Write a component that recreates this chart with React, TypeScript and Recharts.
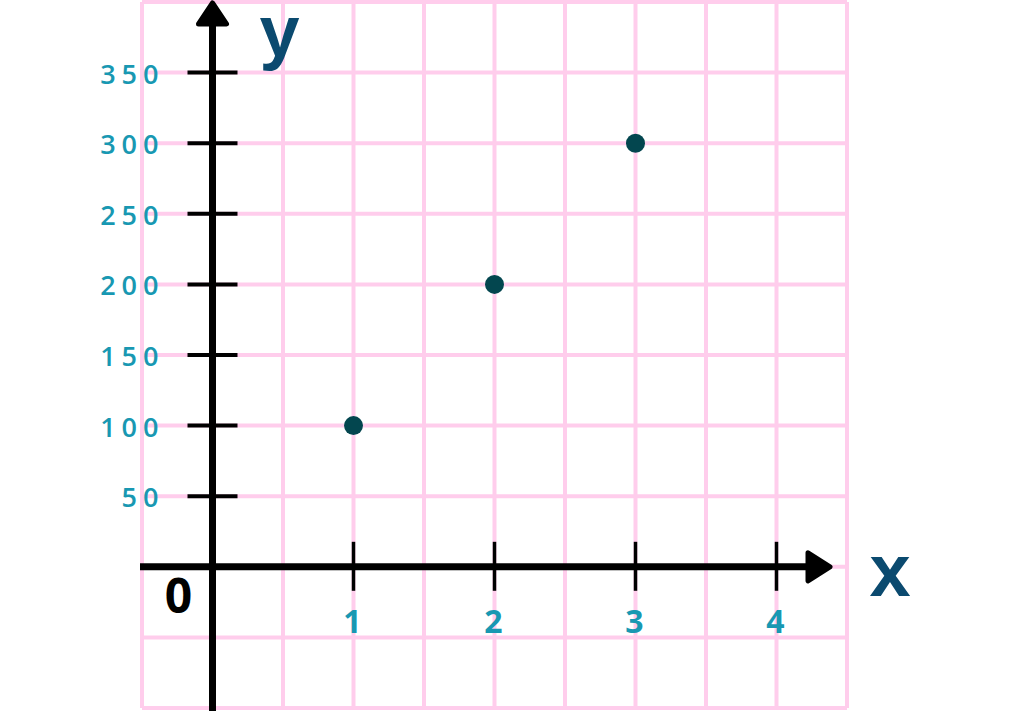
import React from "react";
import {
  ScatterChart,
  Scatter,
  XAxis,
  YAxis,
  CartesianGrid,
  ReferenceLine,
  ReferenceDot,
} from "recharts";

// ---- data ----
const points = [
  { x: 1, y: 100 },
  { x: 2, y: 200 },
  { x: 3, y: 300 },
];
const xGridTicks = [-0.5, 0, 0.5, 1, 1.5, 2, 2.5, 3, 3.5, 4, 4.5];
const yGridTicks = [-100, -50, 0, 50, 100, 150, 200, 250, 300, 350, 400];
const xLabelTicks = [1, 2, 3, 4];
const yLabelTicks = [50, 100, 150, 200, 250, 300, 350];
const xDomain = [-0.5, 4.5];
const yDomain = [-100, 400];
const xAxisName = "x";
const yAxisName = "y";
const originLabel = "0";

// ---- styles ----
const GRID = "#ffcdec";
const AXIS = "#000000";
const LABEL = "#1898b2";
const NAME = "#0b4a6f";
const POINT = "#03464f";

const XAxisShape = (p: any) => {
  const x1 = Math.min(p.x1, p.x2);
  const x2 = Math.max(p.x1, p.x2);
  const y = p.y1;
  const tip = x2 - 17;
  return (
    <g>
      <line x1={x1 - 2} y1={y} x2={tip - 10} y2={y} stroke={AXIS} strokeWidth={7} />
      <polygon
        points={`${tip - 22},${y - 14} ${tip},${y} ${tip - 22},${y + 14}`}
        fill={AXIS}
        stroke={AXIS}
        strokeWidth={5}
        strokeLinejoin="round"
      />
      <text
        x={x2 + 43}
        y={y + 29}
        textAnchor="middle"
        fill={NAME}
        fontFamily="'Liberation Sans', Arial, sans-serif"
        fontWeight={700}
        fontSize={74}
      >
        {xAxisName}
      </text>
    </g>
  );
};

const YAxisShape = (p: any) => {
  const top = Math.min(p.y1, p.y2);
  const bottom = Math.max(p.y1, p.y2);
  const x = p.x1;
  const tip = top;
  return (
    <g>
      <line x1={x} y1={bottom + 4} x2={x} y2={tip + 12} stroke={AXIS} strokeWidth={7} />
      <polygon
        points={`${x - 14},${tip + 22} ${x},${tip + 1} ${x + 14},${tip + 22}`}
        fill={AXIS}
        stroke={AXIS}
        strokeWidth={5}
        strokeLinejoin="round"
      />
      <text
        x={x + 67}
        y={top + 54}
        textAnchor="middle"
        fill={NAME}
        fontFamily="'Liberation Sans', Arial, sans-serif"
        fontWeight={700}
        fontSize={72}
      >
        {yAxisName}
      </text>
    </g>
  );
};

const makeXTick = (label: string) => (p: any) => (
  <g>
    <line x1={p.cx} y1={p.cy - 25} x2={p.cx} y2={p.cy + 24} stroke={AXIS} strokeWidth={3.5} />
    <text
      x={p.cx - 1}
      y={p.cy + 66}
      textAnchor="middle"
      fill={LABEL}
      fontFamily="'Open Sans', sans-serif"
      fontWeight={700}
      fontSize={32}
    >
      {label}
    </text>
  </g>
);

const makeYTick = (label: string) => (p: any) => (
  <g>
    <line x1={p.cx - 25} y1={p.cy} x2={p.cx + 25} y2={p.cy} stroke={AXIS} strokeWidth={4} />
    <text
      x={p.cx - 48}
      y={p.cy + 11}
      textAnchor="end"
      fill={LABEL}
      fontFamily="'Open Sans', sans-serif"
      fontWeight={600}
      fontSize={27}
      letterSpacing={6}
    >
      {label}
    </text>
  </g>
);

const OriginShape = (p: any) => (
  <text
    x={p.cx - 34}
    y={p.cy + 46}
    textAnchor="middle"
    fill="#000"
    fontFamily="'Open Sans', sans-serif"
    fontWeight={700}
    fontSize={48}
  >
    {originLabel}
  </text>
);

const PointShape = (p: any) => <circle cx={p.cx} cy={p.cy} r={9.5} fill={POINT} />;

export default function App() {
  return (
    <div style={{ position: "absolute", left: 0, top: 0, width: 1024, height: 711, background: "#fff" }}>
      <ScatterChart
        width={1024}
        height={711}
        margin={{ top: 2, right: 177, bottom: 3, left: 142 }}
      >
        <CartesianGrid stroke={GRID} strokeWidth={4} />
        <XAxis
          type="number"
          dataKey="x"
          domain={xDomain}
          ticks={xGridTicks}
          allowDataOverflow
          hide
        />
        <YAxis
          type="number"
          dataKey="y"
          domain={yDomain}
          ticks={yGridTicks}
          allowDataOverflow
          hide
        />
        <ReferenceLine x={0} shape={YAxisShape} ifOverflow="visible" />
        <ReferenceLine y={0} shape={XAxisShape} ifOverflow="visible" />
        {xLabelTicks.map((v) => (
          <ReferenceDot key={`xt${v}`} x={v} y={0} r={0} shape={makeXTick(String(v))} ifOverflow="visible" />
        ))}
        {yLabelTicks.map((v) => (
          <ReferenceDot key={`yt${v}`} x={0} y={v} r={0} shape={makeYTick(String(v))} ifOverflow="visible" />
        ))}
        <ReferenceDot x={0} y={0} r={0} shape={OriginShape} ifOverflow="visible" />
        <Scatter data={points} shape={PointShape} isAnimationActive={false} />
      </ScatterChart>
    </div>
  );
}
